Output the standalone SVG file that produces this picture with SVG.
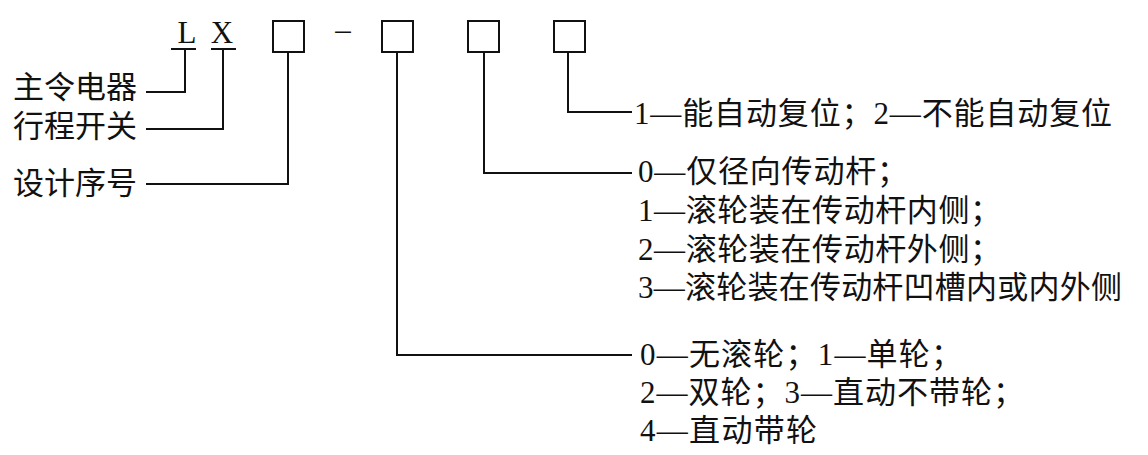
<svg xmlns="http://www.w3.org/2000/svg" width="1148" height="455" viewBox="0 0 1148 455">
<style>
.t{font-family:"Liberation Serif","Noto Sans CJK SC",serif;font-size:31px;fill:#111}
.ln{fill:none;stroke:#111;stroke-width:2}
.box{fill:#fff;stroke:#111;stroke-width:2}
</style>
<rect width="1148" height="455" fill="#fff"/>
<g id="code">
<text class="t" x="187" y="43" text-anchor="middle" font-size="29">L</text>
<text class="t" x="222" y="43" text-anchor="middle" font-size="29">X</text>
<line class="ln" x1="171" y1="49" x2="196" y2="49"/>
<line class="ln" x1="211" y1="49" x2="236" y2="49"/>
<text class="t" x="343" y="40" text-anchor="middle" font-size="27">–</text>
</g>
<g id="box1"><rect class="box" x="273" y="21" width="31" height="31"/></g>
<g id="box2"><rect class="box" x="382" y="21" width="31" height="31"/></g>
<g id="box3"><rect class="box" x="468" y="21" width="31" height="31"/></g>
<g id="box4"><rect class="box" x="554" y="21" width="31" height="31"/></g>
<g id="connectors">
<path class="ln" d="M185,49 V92 H146"/>
<path class="ln" d="M223,49 V129 H146"/>
<path class="ln" d="M288,52 V184 H146"/>
<path class="ln" d="M397,52 V355 H632"/>
<path class="ln" d="M484,52 V173 H632"/>
<path class="ln" d="M568,52 V112 H632"/>
</g>
<g id="label-main"><text class="t" x="13" y="98">主令电器</text></g>
<g id="label-travel"><text class="t" x="13" y="137">行程开关</text></g>
<g id="label-design"><text class="t" x="13" y="194">设计序号</text></g>
<g id="desc-reset"><text class="t" x="634" y="124" textLength="478">1—能自动复位；2—不能自动复位</text></g>
<g id="desc-rod">
<text class="t" x="638" y="182" textLength="270">0—仅径向传动杆；</text>
<text class="t" x="638" y="221" textLength="363">1—滚轮装在传动杆内侧；</text>
<text class="t" x="638" y="260" textLength="363">2—滚轮装在传动杆外侧；</text>
<text class="t" x="638" y="298" textLength="484">3—滚轮装在传动杆凹槽内或内外侧</text>
</g>
<g id="desc-wheel">
<text class="t" x="640" y="365" textLength="322">0—无滚轮；1—单轮；</text>
<text class="t" x="640" y="403" textLength="384">2—双轮；3—直动不带轮；</text>
<text class="t" x="640" y="441" textLength="177">4—直动带轮</text>
</g>
</svg>
